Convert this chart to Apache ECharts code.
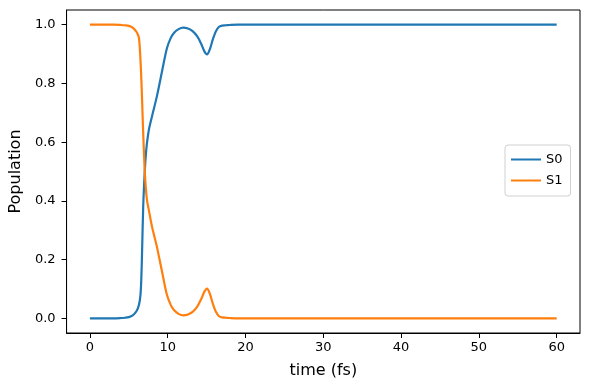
<!DOCTYPE html>
<html>
<head>
<meta charset="utf-8">
<script src="https://cdn.jsdelivr.net/npm/echarts@6/dist/echarts.min.js"></script>
<style>html,body{margin:0;padding:0;background:#fff}#c{width:590px;height:390px}</style>
</head>
<body>
<div id="c"></div>
<script>
const time = [0,1,2,3,4,4.5,5,5.5,6,6.3,6.5,6.6,6.7,6.85,7.05,7.2,7.35,7.6,8,8.6,9.3,9.9,10.4,10.8,11.4,12,12.6,13.2,13.8,14.3,14.7,15.05,15.4,15.8,16.2,16.6,17,17.5,18,19,20,30,40,50,60];
const s0 = [0,0,0,0,0.001,0.002,0.004,0.01,0.025,0.045,0.08,0.13,0.22,0.38,0.5,0.56,0.6,0.645,0.69,0.755,0.845,0.92,0.955,0.972,0.985,0.99,0.987,0.978,0.96,0.935,0.91,0.899,0.915,0.95,0.978,0.993,0.997,0.998,0.999,1,1,1,1,1,1];
const s1 = [1,1,1,1,0.999,0.998,0.996,0.99,0.975,0.955,0.88,0.82,0.75,0.63,0.5,0.44,0.4,0.365,0.31,0.245,0.155,0.08,0.045,0.028,0.015,0.01,0.013,0.022,0.04,0.065,0.09,0.101,0.085,0.05,0.022,0.007,0.003,0.002,0.001,0,0,0,0,0,0];
const xTicks = [0,10,20,30,40,50,60];
const yTicks = [0,0.2,0.4,0.6,0.8,1.0];
const seriesNames = ['S0','S1'];

const font = 'DejaVu Sans';
const chart = echarts.init(document.getElementById('c'), null, {renderer:'canvas'});
chart.setOption({
  animation:false,
  backgroundColor:'#fff',
  grid:{left:66,right:10,top:10,bottom:57,show:true,borderColor:'#000',borderWidth:1,backgroundColor:'transparent'},
  legend:{
    orient:'vertical', left:505, top:145,
    data:seriesNames,
    icon:'rect',
    itemWidth:30, itemHeight:2, itemGap:8, itemTextGap:15,
    padding:[8,8,9,6],
    borderColor:'#d0d0d0', borderWidth:1, borderRadius:3,
    backgroundColor:'rgba(255,255,255,0.8)',
    textStyle:{fontFamily:font,fontSize:13,color:'#000'}
  },
  xAxis:{
    type:'value', min:-3, max:63,
    name:'time (fs)', nameLocation:'middle', nameGap:30,
    nameTextStyle:{fontFamily:font,fontSize:16,color:'#000'},
    axisLine:{show:true,onZero:false,lineStyle:{color:'#000',width:1}},
    axisTick:{show:true,length:5,inside:false,customValues:xTicks,lineStyle:{color:'#000',width:1}},
    axisLabel:{margin:8,fontFamily:font,fontSize:13,color:'#000',customValues:xTicks,formatter:v=>String(v)},
    splitLine:{show:false}
  },
  yAxis:{
    type:'value', min:-0.05, max:1.05,
    name:'Population', nameLocation:'middle', nameGap:31,
    nameTextStyle:{fontFamily:font,fontSize:16,color:'#000'},
    axisLine:{show:true,onZero:false,lineStyle:{color:'#000',width:1}},
    axisTick:{show:true,length:5,inside:false,customValues:yTicks,lineStyle:{color:'#000',width:1}},
    axisLabel:{margin:11,fontFamily:font,fontSize:13,color:'#000',customValues:yTicks,formatter:v=>v.toFixed(1)},
    splitLine:{show:false}
  },
  series:[
    {name:seriesNames[0],type:'line',data:time.map((t,i)=>[t,s0[i]]),symbol:'none',smooth:0.3,
     lineStyle:{color:'#1f77b4',width:2.2},itemStyle:{color:'#1f77b4'}},
    {name:seriesNames[1],type:'line',data:time.map((t,i)=>[t,s1[i]]),symbol:'none',smooth:0.3,
     lineStyle:{color:'#ff7f0e',width:2.2},itemStyle:{color:'#ff7f0e'}}
  ]
});
</script>
</body>
</html>
